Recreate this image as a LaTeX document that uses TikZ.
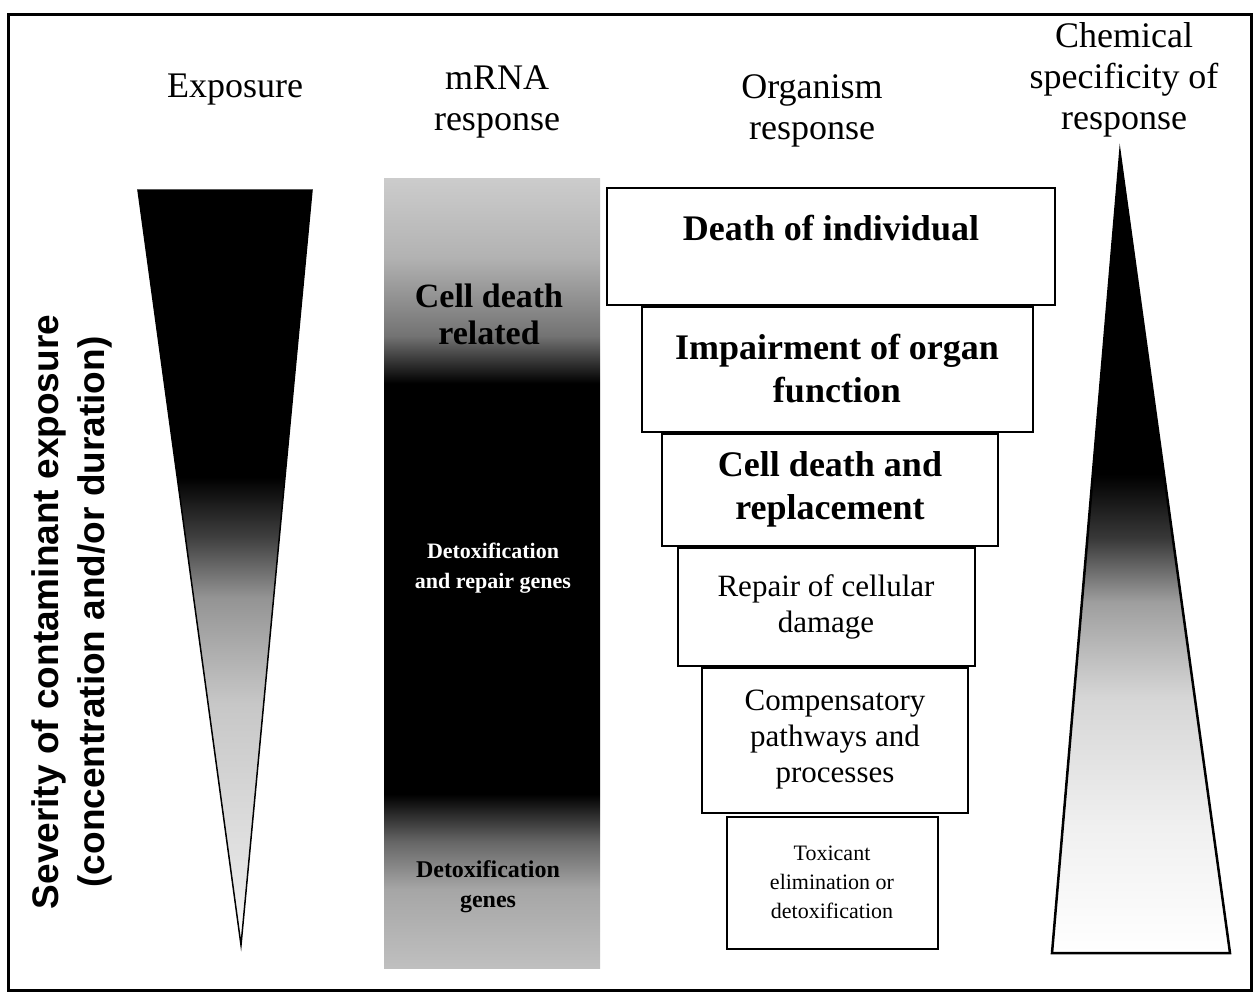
\documentclass[tikz,border=0pt]{standalone}
\usepackage{fontspec}
\setmainfont{Liberation Serif}
\setsansfont{Liberation Sans}
\usetikzlibrary{positioning}
% grey ramps, bottom (25bp) to top (75bp)
\pgfdeclareverticalshading{exposhade}{100bp}{color(0bp)=(white); color(25bp)=(white); color(29bp)=(black!10); color(41bp)=(black!22); color(48bp)=(black!42); color(52bp)=(black!75); color(56bp)=(black); color(100bp)=(black)}
\pgfdeclareverticalshading{mrnashade}{100bp}{color(0bp)=(black!25); color(25bp)=(black!25); color(30bp)=(black!35); color(33bp)=(black!60); color(36bp)=(black); color(62bp)=(black); color(65bp)=(black!55); color(70bp)=(black!30); color(75bp)=(black!20); color(100bp)=(black!20)}
\pgfdeclareverticalshading{specshade}{100bp}{color(0bp)=(white); color(25bp)=(white); color(33bp)=(black!6); color(41bp)=(black!16); color(47bp)=(black!38); color(51bp)=(black!78); color(55bp)=(black); color(100bp)=(black)}
\tikzstyle{head} = [align=center, font=\fontsize{36}{41}\selectfont]
\tikzstyle{orgbox} = [draw=black, line width=2pt, fill=white, align=center, inner sep=0pt]
\tikzstyle{bigtxt} = [font=\fontsize{36}{43}\selectfont\bfseries]
\tikzstyle{midtxt} = [font=\fontsize{31}{36}\selectfont]
\tikzstyle{smalltxt} = [font=\fontsize{22}{29}\selectfont]

\begin{document}
\begin{tikzpicture}[x=1pt, y=1pt]
		\useasboundingbox (0,0) rectangle (1255,-994);
		\draw [line width=3pt] (8,-14) rectangle (1251,-990);
		% column heads
		\node (hexpo) [head] at (235,-90) {Exposure};
		\node (hmrna) [head] at (497,-102) {mRNA\\response};
		\node (horg) [head] at (812,-111) {Organism\\response};
		\node (hspec) [head] at (1124,-80) {Chemical\\specificity of\\response};
		% severity axis
		\node (sev) [rotate=90, align=center, font=\fontsize{37}{46}\selectfont\sffamily\bfseries] at (72,-612) {Severity of contaminant exposure\\(concentration and/or duration)};
		% exposure wedge
		\shadedraw [shading=exposhade, line width=1.5pt] (138,-190) -- (312,-190) -- (241,-945) -- cycle;
		% mRNA bar
		\shade [shading=mrnashade] (384,-178) rectangle (600,-968);
		\node (mcell) [align=center, font=\fontsize{34}{37}\selectfont\bfseries] at (489,-314) {Cell death\\related};
		\node (mrep) [align=center, text=white, font=\fontsize{22}{30}\selectfont\bfseries] at (493,-568) {Detoxification\\and repair genes};
		\node (mdet) [align=center, font=\fontsize{24}{30}\selectfont\bfseries] at (488,-887) {Detoxification\\genes};
		% organism response stack
		\node (death) [orgbox, bigtxt, minimum width=448pt, minimum height=117pt, text depth=37pt] at (831,-246) {Death of individual};
		\node (organ) [orgbox, bigtxt, minimum width=391pt, minimum height=125pt, below=0pt of death, xshift=6pt] {Impairment of organ\\function};
		\node (celld) [orgbox, bigtxt, minimum width=336pt, minimum height=112pt, below=0pt of organ, xshift=-7pt] {Cell death and\\replacement};
		\node (repair) [orgbox, midtxt, minimum width=297pt, minimum height=118pt, below=0pt of celld, xshift=-4pt] {Repair of cellular\\damage};
		\node (comp) [orgbox, midtxt, minimum width=266pt, minimum height=145pt, below=0pt of repair, xshift=9pt] {Compensatory\\pathways and\\processes};
		\node (toxic) [orgbox, smalltxt, minimum width=211pt, minimum height=132pt, below=2pt of comp, xshift=-3pt] {Toxicant\\elimination or\\detoxification};
		% specificity wedge
		\shadedraw [shading=specshade, line width=2.5pt] (1120,-155) -- (1230,-953) -- (1052,-953) -- cycle;
\end{tikzpicture}
\end{document}
